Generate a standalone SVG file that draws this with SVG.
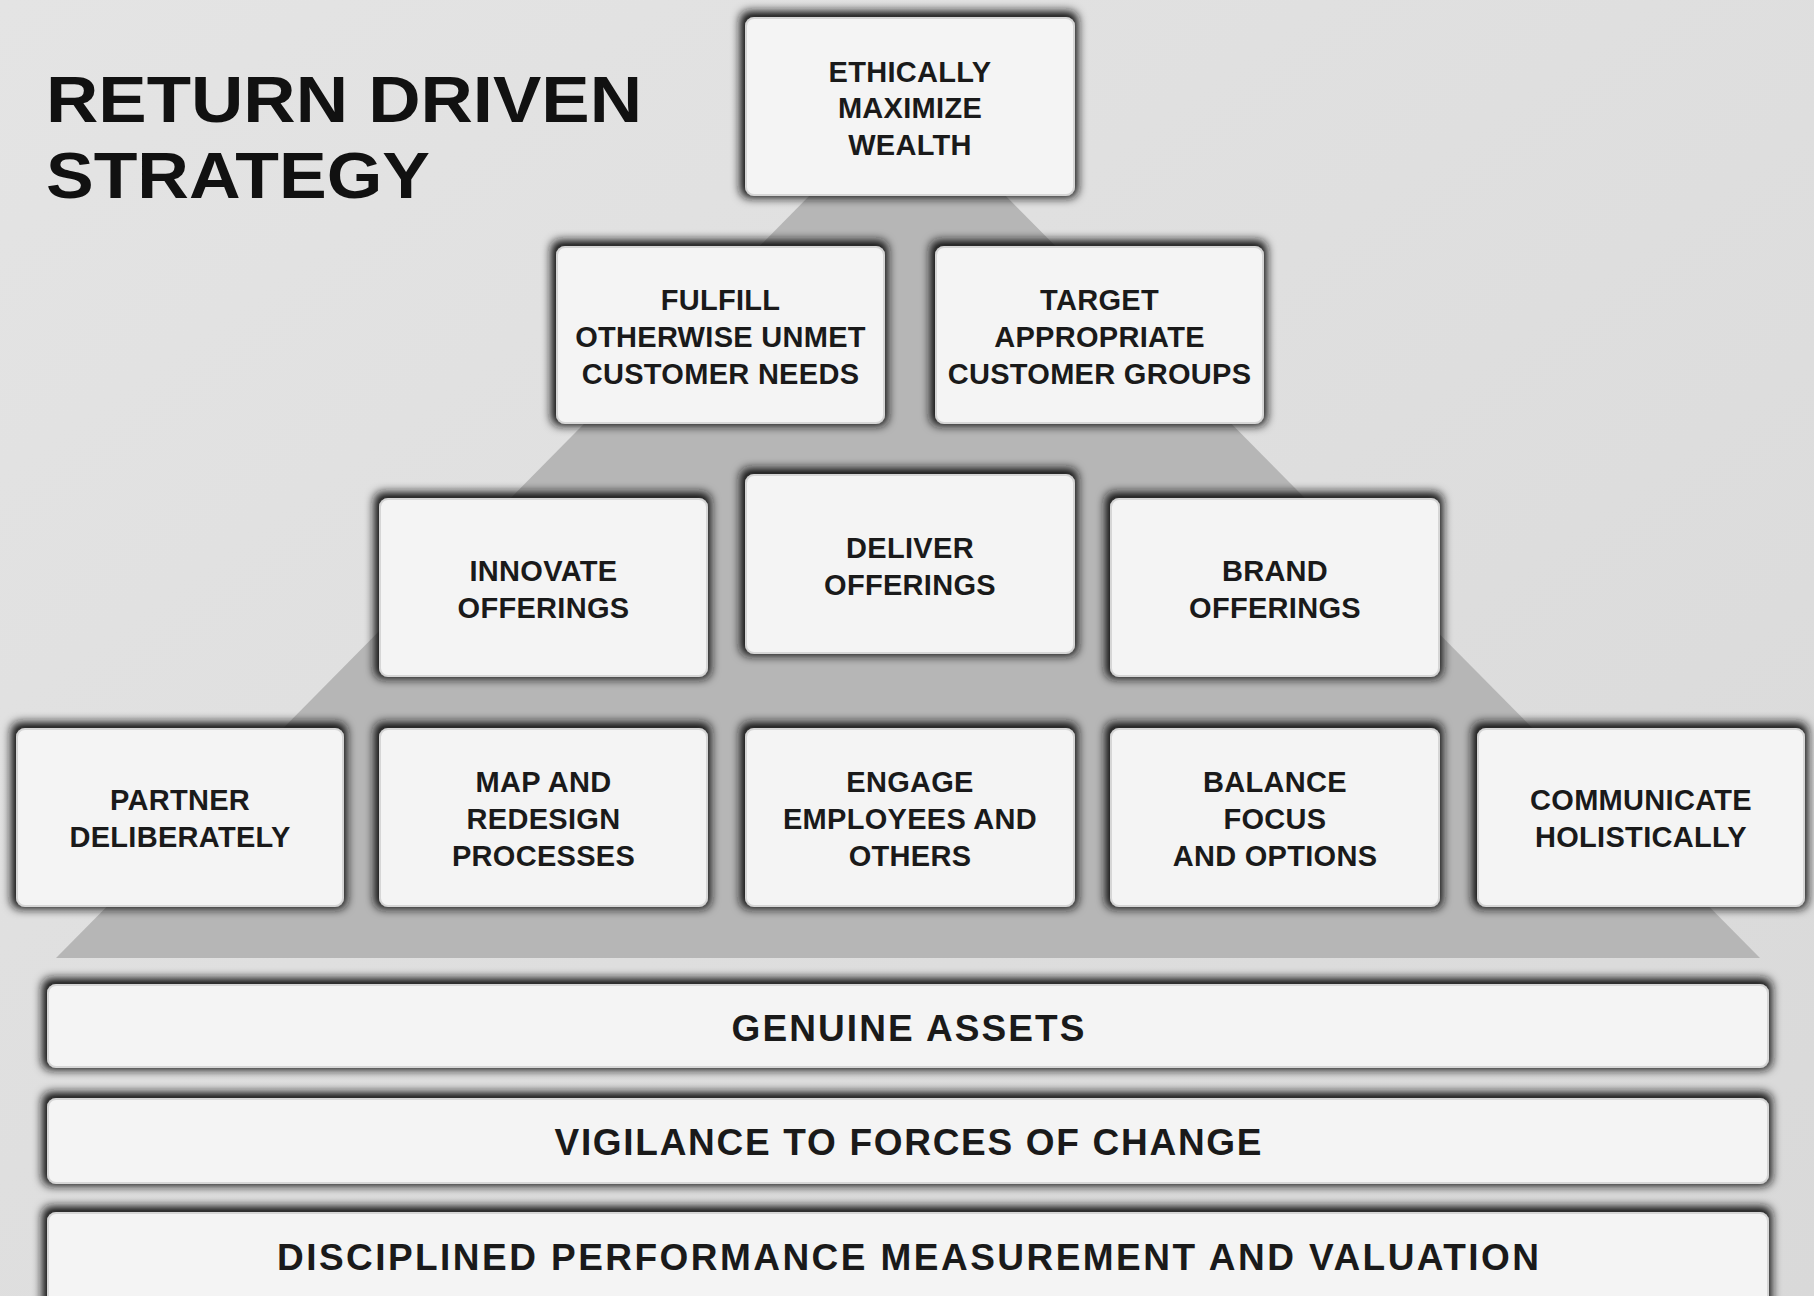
<svg xmlns="http://www.w3.org/2000/svg" width="1814" height="1296" viewBox="0 0 1814 1296">
<defs>
<linearGradient id="bg" x1="0" y1="0" x2="1" y2="1">
<stop offset="0" stop-color="#e4e4e4"/>
<stop offset="1" stop-color="#d9d9d9"/>
</linearGradient>
<filter id="sh" x="-10%" y="-25%" width="120%" height="150%">
<feMorphology in="SourceAlpha" operator="dilate" radius="4" result="d"/>
<feGaussianBlur in="d" stdDeviation="5" result="b"/>
<feOffset in="b" dx="-1" dy="-2" result="o"/>
<feFlood flood-color="#141414" flood-opacity="1"/>
<feComposite in2="o" operator="in" result="s"/>
<feMerge><feMergeNode in="s"/><feMergeNode in="SourceGraphic"/></feMerge>
</filter>
</defs>
<style>
.box{fill:#f4f4f4;stroke:#d6d6d6;stroke-width:2;filter:url(#sh)}
.t{font-family:"Liberation Sans",Arial,sans-serif;font-weight:bold;font-size:29px;fill:#1a1a1a;text-anchor:middle;letter-spacing:0.3px}
.bt{font-family:"Liberation Sans",Arial,sans-serif;font-weight:bold;font-size:37px;fill:#1a1a1a;text-anchor:middle}
.title{font-family:"Liberation Sans",Arial,sans-serif;font-weight:bold;font-size:64px;fill:#111}
</style>
<rect x="0" y="0" width="1814" height="1296" fill="url(#bg)"/>
<polygon points="815,190 1000,190 1760,958 56,958" fill="#b6b6b6"/>
<text class="title" x="46" y="122" textLength="596" lengthAdjust="spacingAndGlyphs">RETURN DRIVEN</text>
<text class="title" x="46" y="198" textLength="384" lengthAdjust="spacingAndGlyphs">STRATEGY</text>
<g id="connectors"></g>
<g id="bar-assets"><rect class="box" x="48" y="985" width="1720" height="82" rx="8"/><text class="bt" x="908" y="1041" textLength="353" lengthAdjust="spacing">GENUINE ASSETS</text></g>
<g id="bar-vigilance"><rect class="box" x="48" y="1099" width="1720" height="84" rx="8"/><text class="bt" x="908" y="1155" textLength="707" lengthAdjust="spacing">VIGILANCE TO FORCES OF CHANGE</text></g>
<g id="bar-measure"><rect class="box" x="48" y="1213" width="1720" height="100" rx="8"/><text class="bt" x="908" y="1270" textLength="1262" lengthAdjust="spacing">DISCIPLINED PERFORMANCE MEASUREMENT AND VALUATION</text></g>
<g id="n-wealth"><rect class="box" x="746" y="18" width="328" height="177" rx="8"/><text class="t" x="910" y="82">ETHICALLY</text><text class="t" x="910" y="118">MAXIMIZE</text><text class="t" x="910" y="155">WEALTH</text></g>
<g id="n-fulfill"><rect class="box" x="557" y="247" width="327" height="176" rx="8"/><text class="t" x="720.5" y="310">FULFILL</text><text class="t" x="720.5" y="347">OTHERWISE UNMET</text><text class="t" x="720.5" y="384">CUSTOMER NEEDS</text></g>
<g id="n-target"><rect class="box" x="936" y="247" width="327" height="176" rx="8"/><text class="t" x="1099.5" y="310">TARGET</text><text class="t" x="1099.5" y="347">APPROPRIATE</text><text class="t" x="1099.5" y="384">CUSTOMER GROUPS</text></g>
<g id="n-innovate"><rect class="box" x="380" y="499" width="327" height="177" rx="8"/><text class="t" x="543.5" y="581">INNOVATE</text><text class="t" x="543.5" y="618">OFFERINGS</text></g>
<g id="n-deliver"><rect class="box" x="746" y="475" width="328" height="178" rx="8"/><text class="t" x="910" y="558">DELIVER</text><text class="t" x="910" y="595">OFFERINGS</text></g>
<g id="n-brand"><rect class="box" x="1111" y="499" width="328" height="177" rx="8"/><text class="t" x="1275" y="581">BRAND</text><text class="t" x="1275" y="618">OFFERINGS</text></g>
<g id="n-partner"><rect class="box" x="17" y="729" width="326" height="177" rx="8"/><text class="t" x="180" y="810">PARTNER</text><text class="t" x="180" y="847">DELIBERATELY</text></g>
<g id="n-map"><rect class="box" x="380" y="729" width="327" height="177" rx="8"/><text class="t" x="543.5" y="792">MAP AND</text><text class="t" x="543.5" y="829">REDESIGN</text><text class="t" x="543.5" y="866">PROCESSES</text></g>
<g id="n-engage"><rect class="box" x="746" y="729" width="328" height="177" rx="8"/><text class="t" x="910" y="792">ENGAGE</text><text class="t" x="910" y="829">EMPLOYEES AND</text><text class="t" x="910" y="866">OTHERS</text></g>
<g id="n-balance"><rect class="box" x="1111" y="729" width="328" height="177" rx="8"/><text class="t" x="1275" y="792">BALANCE</text><text class="t" x="1275" y="829">FOCUS</text><text class="t" x="1275" y="866">AND OPTIONS</text></g>
<g id="n-communicate"><rect class="box" x="1478" y="729" width="326" height="177" rx="8"/><text class="t" x="1641" y="810">COMMUNICATE</text><text class="t" x="1641" y="847">HOLISTICALLY</text></g>
</svg>
